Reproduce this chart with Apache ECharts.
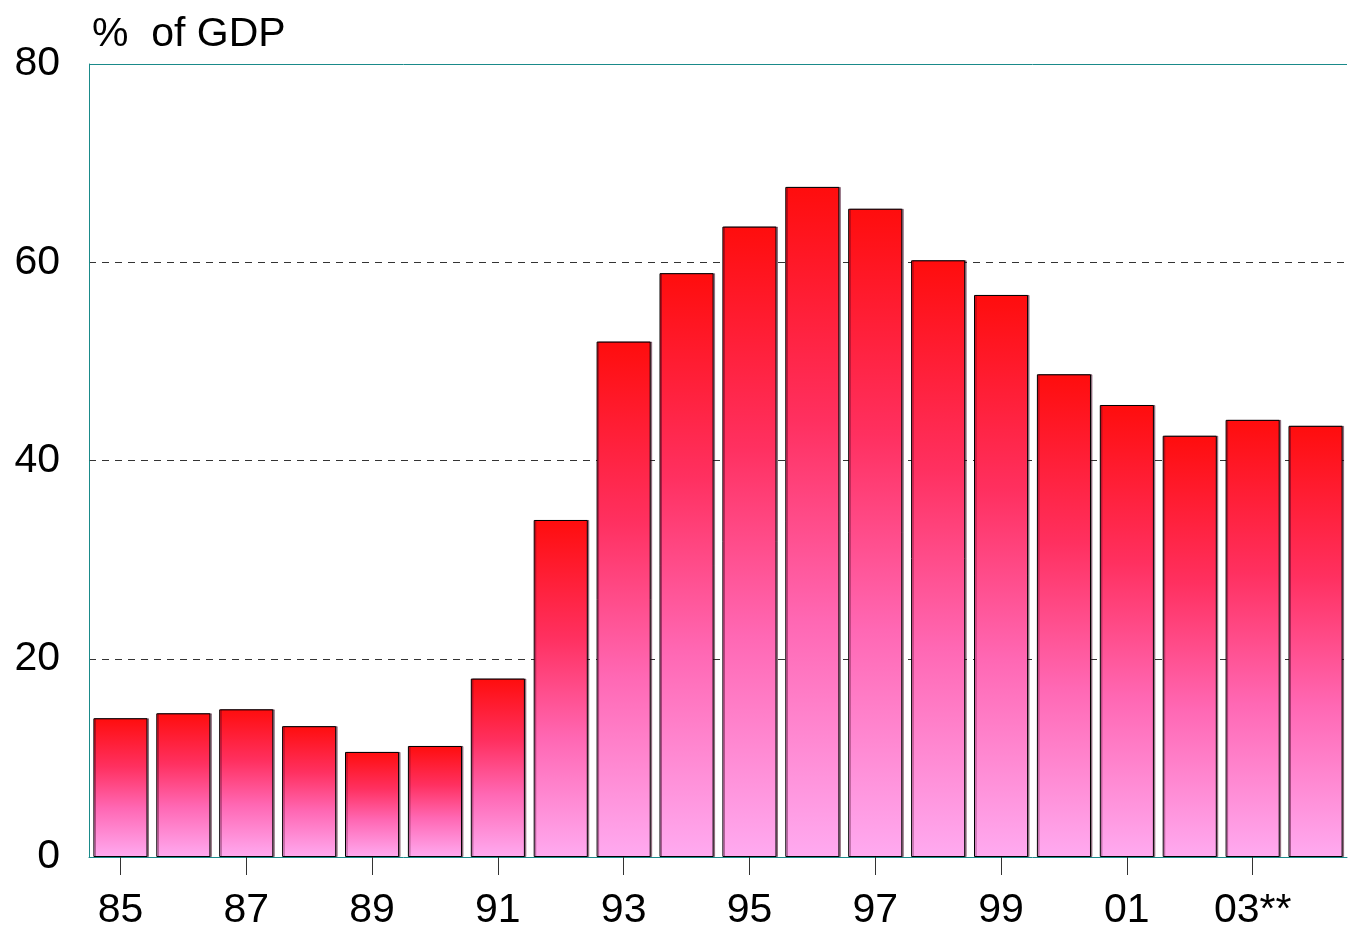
<!DOCTYPE html>
<html>
<head>
<meta charset="utf-8">
<script src="https://cdn.jsdelivr.net/npm/echarts@6/dist/echarts.min.js"></script>
<style>html,body{margin:0;padding:0;background:#fff;}#chart{width:1348px;height:931px;}</style>
</head>
<body>
<div id="chart"></div>
<script>
const categories = ['85','86','87','88','89','90','91','92','93','94','95','96','97','98','99','00','01','02','03**','04'];
const debtPctGDP = [14.0,14.5,14.9,13.2,10.6,11.2,18.0,34.0,52.0,58.9,63.6,67.6,65.4,60.2,56.7,48.7,45.6,42.5,44.1,43.5];
const yTicks = { min: 0, max: 80, interval: 20 };
const titleText = '%  of GDP';

const FONT = '"Liberation Sans", Arial, Helvetica, sans-serif';
const chart = echarts.init(document.getElementById('chart'), null, { renderer: 'canvas' });
chart.setOption({
  animation: false,
  backgroundColor: '#ffffff',
  title: {
    text: titleText,
    left: 87, top: 9,
    textStyle: { fontFamily: FONT, fontSize: 41, fontWeight: 'normal', color: '#000' }
  },
  grid: { left: 89, right: 1, top: 64, bottom: 74, containLabel: false },
  xAxis: {
    type: 'category',
    data: categories,
    axisLine: { show: true, lineStyle: { color: '#1a8a8a', width: 1 } },
    axisTick: { show: true, interval: 1, alignWithLabel: true, length: 18, lineStyle: { color: '#333', width: 1 } },
    axisLabel: { interval: 1, margin: 33, fontFamily: FONT, fontSize: 41, color: '#000' },
    splitLine: { show: false }
  },
  yAxis: {
    type: 'value',
    min: yTicks.min, max: yTicks.max, interval: yTicks.interval,
    axisLine: { show: true, lineStyle: { color: '#1a8a8a', width: 1 } },
    axisTick: { show: false },
    axisLabel: { margin: 29, fontFamily: FONT, fontSize: 41, color: '#000' },
    splitLine: { show: true, showMinLine: false, showMaxLine: false, lineStyle: { color: '#333', type: [7, 6], width: 1 } }
  },
  series: [{
    type: 'bar',
    data: debtPctGDP,
    barCategoryGap: '14%',
    itemStyle: {
      borderColor: '#000', borderWidth: 1,
      shadowColor: 'rgba(60,0,30,0.45)', shadowOffsetX: 1.5, shadowOffsetY: 0, shadowBlur: 0,
      color: new echarts.graphic.LinearGradient(0, 0, 0, 1, [
        { offset: 0, color: '#ff0d0d' },
        { offset: 0.35, color: '#ff3060' },
        { offset: 0.65, color: '#ff68b4' },
        { offset: 1, color: '#ffaaf0' }
      ])
    },
    markLine: {
      silent: true, symbol: 'none', label: { show: false },
      lineStyle: { color: '#1a8a8a', type: 'solid', width: 1 },
      data: [{ yAxis: yTicks.max }]
    }
  }]
});
</script>
</body>
</html>
